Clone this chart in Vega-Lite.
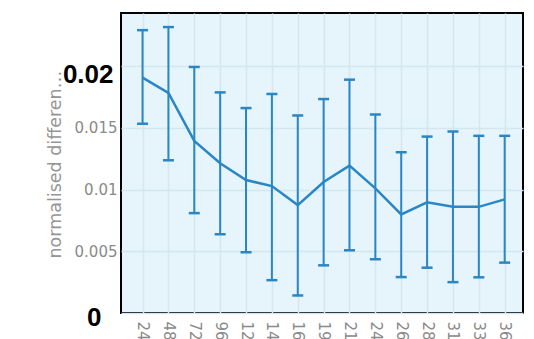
{
  "$schema": "https://vega.github.io/schema/vega-lite/v6.json",
  "width": 402,
  "height": 300,
  "autosize": {"type": "none"},
  "padding": {"left": 121, "top": 13, "right": 11, "bottom": 26},
  "background": "white",
  "config": {
    "view": {"fill": "#e6f5fc", "stroke": "black", "strokeWidth": 2},
    "axis": {"gridColor": "#d4e6ee", "gridWidth": 1.5, "domain": false, "ticks": false}
  },
  "data": {
    "values": [
      {"hours": 24, "mean": 0.01907, "lower": 0.01533, "upper": 0.02291},
      {"hours": 48, "mean": 0.01782, "lower": 0.01237, "upper": 0.02316},
      {"hours": 72, "mean": 0.01394, "lower": 0.00809, "upper": 0.01993},
      {"hours": 96, "mean": 0.01213, "lower": 0.00638, "upper": 0.01787},
      {"hours": 120, "mean": 0.01077, "lower": 0.00492, "upper": 0.0166},
      {"hours": 144, "mean": 0.01028, "lower": 0.00266, "upper": 0.01774},
      {"hours": 168, "mean": 0.00874, "lower": 0.00142, "upper": 0.016},
      {"hours": 192, "mean": 0.01061, "lower": 0.00386, "upper": 0.01733},
      {"hours": 216, "mean": 0.01194, "lower": 0.00508, "upper": 0.0189},
      {"hours": 240, "mean": 0.0101, "lower": 0.00435, "upper": 0.01608},
      {"hours": 264, "mean": 0.00798, "lower": 0.00291, "upper": 0.01302},
      {"hours": 288, "mean": 0.00896, "lower": 0.00367, "upper": 0.01429},
      {"hours": 312, "mean": 0.0086, "lower": 0.0025, "upper": 0.0147},
      {"hours": 336, "mean": 0.0086, "lower": 0.00289, "upper": 0.01435},
      {"hours": 360, "mean": 0.0092, "lower": 0.00408, "upper": 0.01435}
    ]
  },
  "encoding": {
    "x": {
      "field": "hours",
      "type": "quantitative",
      "scale": {"domain": [4, 377], "nice": false, "zero": false},
      "axis": {
        "title": null,
        "values": [24, 48, 72, 96, 120, 144, 168, 192, 216, 240, 264, 288, 312, 336, 360],
        "labelAngle": 90,
        "labelAlign": "left",
        "labelBaseline": "middle",
        "labelPadding": 8,
        "labelFont": "DejaVu Sans",
        "labelFontSize": 15,
        "labelColor": "#8a8a8a",
        "labelOverlap": false
      }
    }
  },
  "layer": [
    {
      "mark": {"type": "rule", "color": "#2a86c4", "strokeWidth": 2},
      "encoding": {
        "y": {
          "field": "lower",
          "type": "quantitative",
          "scale": {"domain": [0, 0.0243], "nice": false},
          "axis": {
            "values": [0, 0.005, 0.01, 0.015, 0.02],
            "format": "~g",
            "title": "normalised differences",
            "titleFont": "DejaVu Sans",
            "titleFontSize": 17.5,
            "titleFontWeight": "normal",
            "titleColor": "#959595",
            "titleX": -61,
            "titleY": 245,
            "titleAlign": "left",
            "titleBaseline": "alphabetic",
            "titleLimit": 190,
            "labelFont": {"condition": {"test": "datum.value == 0 || datum.value == 0.02", "value": "Liberation Sans"}, "value": "DejaVu Sans"},
            "labelFontSize": {"condition": {"test": "datum.value == 0 || datum.value == 0.02", "value": 26}, "value": 15},
            "labelFontWeight": {"condition": {"test": "datum.value == 0 || datum.value == 0.02", "value": "bold"}, "value": "normal"},
            "labelColor": {"condition": {"test": "datum.value == 0 || datum.value == 0.02", "value": "black"}, "value": "#8a8a8a"},
            "labelPadding": {"condition": [{"test": "datum.value == 0", "value": 20}, {"test": "datum.value == 0.02", "value": 8}], "value": 4},
            "labelOffset": {"condition": [{"test": "datum.value == 0", "value": 4}, {"test": "datum.value == 0.02", "value": 8}], "value": 0}
          }
        },
        "y2": {"field": "upper"}
      }
    },
    {
      "mark": {"type": "tick", "orient": "horizontal", "color": "#2a86c4", "size": 11, "thickness": 2.5, "opacity": 1},
      "encoding": {"y": {"field": "lower", "type": "quantitative"}}
    },
    {
      "mark": {"type": "tick", "orient": "horizontal", "color": "#2a86c4", "size": 11, "thickness": 2.5, "opacity": 1},
      "encoding": {"y": {"field": "upper", "type": "quantitative"}}
    },
    {
      "mark": {"type": "line", "color": "#2a86c4", "strokeWidth": 2.5},
      "encoding": {"y": {"field": "mean", "type": "quantitative"}}
    }
  ]
}
